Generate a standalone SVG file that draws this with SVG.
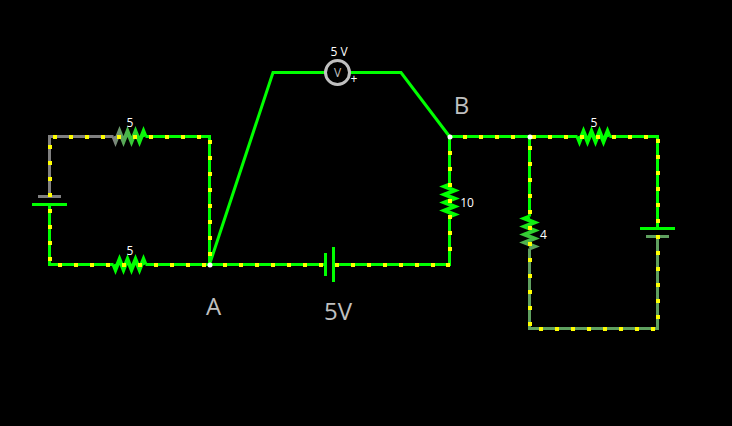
<svg xmlns="http://www.w3.org/2000/svg" width="732" height="426" viewBox="0 0 732 426">
<style>
.w{fill:none;stroke:#0f0;stroke-width:3;stroke-linejoin:miter;stroke-miterlimit:10}
.z{stroke-width:4}
.g{stroke:#808080}
.h{stroke:#5fa05f}
.dots{fill:none;stroke:#ff0;stroke-width:4;stroke-dasharray:4 12}
text{font-family:"Open Sans","Noto Sans",sans-serif;text-anchor:middle}
.s{font-size:12px;fill:#fff}
.b{font-size:24px;fill:#c0c0c0}
.n{fill:#fff}
</style>
<defs>
<linearGradient id="grTop" gradientUnits="userSpaceOnUse" x1="113.500" y1="0" x2="145.500" y2="0"><stop offset="0" stop-color="#808080"/><stop offset="1" stop-color="#0f0"/></linearGradient>
<linearGradient id="grR4" gradientUnits="userSpaceOnUse" x1="0" y1="216.500" x2="0" y2="248.500"><stop offset="0" stop-color="#0f0"/><stop offset="1" stop-color="#5fa05f"/></linearGradient>
</defs>
<rect width="732" height="426" fill="#000"/>
<g id="connectors">
<path class="w g" d="M49.500 196.500V136.500H113.500"/>
<path class="w" d="M145.500 136.500H209.500V264.500H145.500M113.500 264.500H49.500V204.500"/>
<path class="w" d="M209.500 264.500H325.500M333.500 264.500H449.500V216.500M449.500 184.500V136.500H577.500M609.500 136.500H657.500V228.500"/>
<path class="w" d="M529.500 136.500V216.500"/>
<path class="w h" d="M529.500 248.500V328.500H657.500V236.500"/>
<path class="w" d="M209.500 264.500L273 72.500H325.500M349.500 72.500H401L449.500 136.500"/>
</g>
<g id="battery-left">
<path class="w g" d="M38 196.500H61"/>
<path class="w" d="M32 204.500H67"/>
</g>
<g id="battery-5v">
<path class="w" d="M325.500 253V276M333.500 247V282"/>
<text class="b" x="338" y="320">5V</text>
</g>
<g id="battery-right">
<path class="w" d="M640 228.500H675"/>
<path class="w h" d="M646 236.500H669"/>
</g>
<g id="r-top-left">
<path class="w z" style="stroke:url(#grTop)" d="M113.500 136.500L115.500 141.500L119.500 131.500L123.500 141.500L127.500 131.500L131.500 141.500L135.500 131.500L139.500 141.500L143.500 131.500L145.500 136.500"/>
<text class="s" x="130" y="127">5</text>
</g>
<g id="r-bottom-left">
<path class="w z" d="M113.500 264.500L115.500 269.500L119.500 259.500L123.500 269.500L127.500 259.500L131.500 269.500L135.500 259.500L139.500 269.500L143.500 259.500L145.500 264.500"/>
<text class="s" x="130" y="255">5</text>
</g>
<g id="r-10">
<path class="w z" d="M449.500 184.500L444.500 186.500L454.500 190.500L444.500 194.500L454.500 198.500L444.500 202.500L454.500 206.500L444.500 210.500L454.500 214.500L449.500 216.500"/>
<text class="s" x="467" y="207">10</text>
</g>
<g id="r-top-right">
<path class="w z" d="M577.500 136.500L579.500 141.500L583.500 131.500L587.500 141.500L591.500 131.500L595.500 141.500L599.500 131.500L603.500 141.500L607.500 131.500L609.500 136.500"/>
<text class="s" x="594" y="127">5</text>
</g>
<g id="r-4">
<path class="w z" style="stroke:url(#grR4)" d="M529.500 216.500L524.500 218.500L534.500 222.500L524.500 226.500L534.500 230.500L524.500 234.500L534.500 238.500L524.500 242.500L534.500 246.500L529.500 248.500"/>
<text class="s" x="543.500" y="239">4</text>
</g>
<g id="voltmeter">
<circle cx="337.500" cy="72.500" r="12" fill="none" stroke="#c0c0c0" stroke-width="3"/>
<text x="337.500" y="77" font-size="12" fill="#c0c0c0">V</text>
<text class="s" x="339" y="56">5 V</text>
<text class="s" x="354" y="83">+</text>
</g>
<path class="dots" d="M53 137H201M50 145V197M50 209V261M58 265H206M210 140V256M223 265H323M335 265H435M446 265H450M450 151V251M463 137H515M532 137H648M530 146V326M658 139V223M658 235V319M539 329H655"/>
<g id="node-a"><circle class="n" cx="210" cy="265" r="2.500"/><text class="b" x="213.500" y="315">A</text></g>
<g id="node-b"><circle class="n" cx="450" cy="137" r="2.500"/><text class="b" x="461.500" y="114">B</text></g>
<g id="node-j"><circle class="n" cx="530" cy="137" r="2.500"/></g>
</svg>
